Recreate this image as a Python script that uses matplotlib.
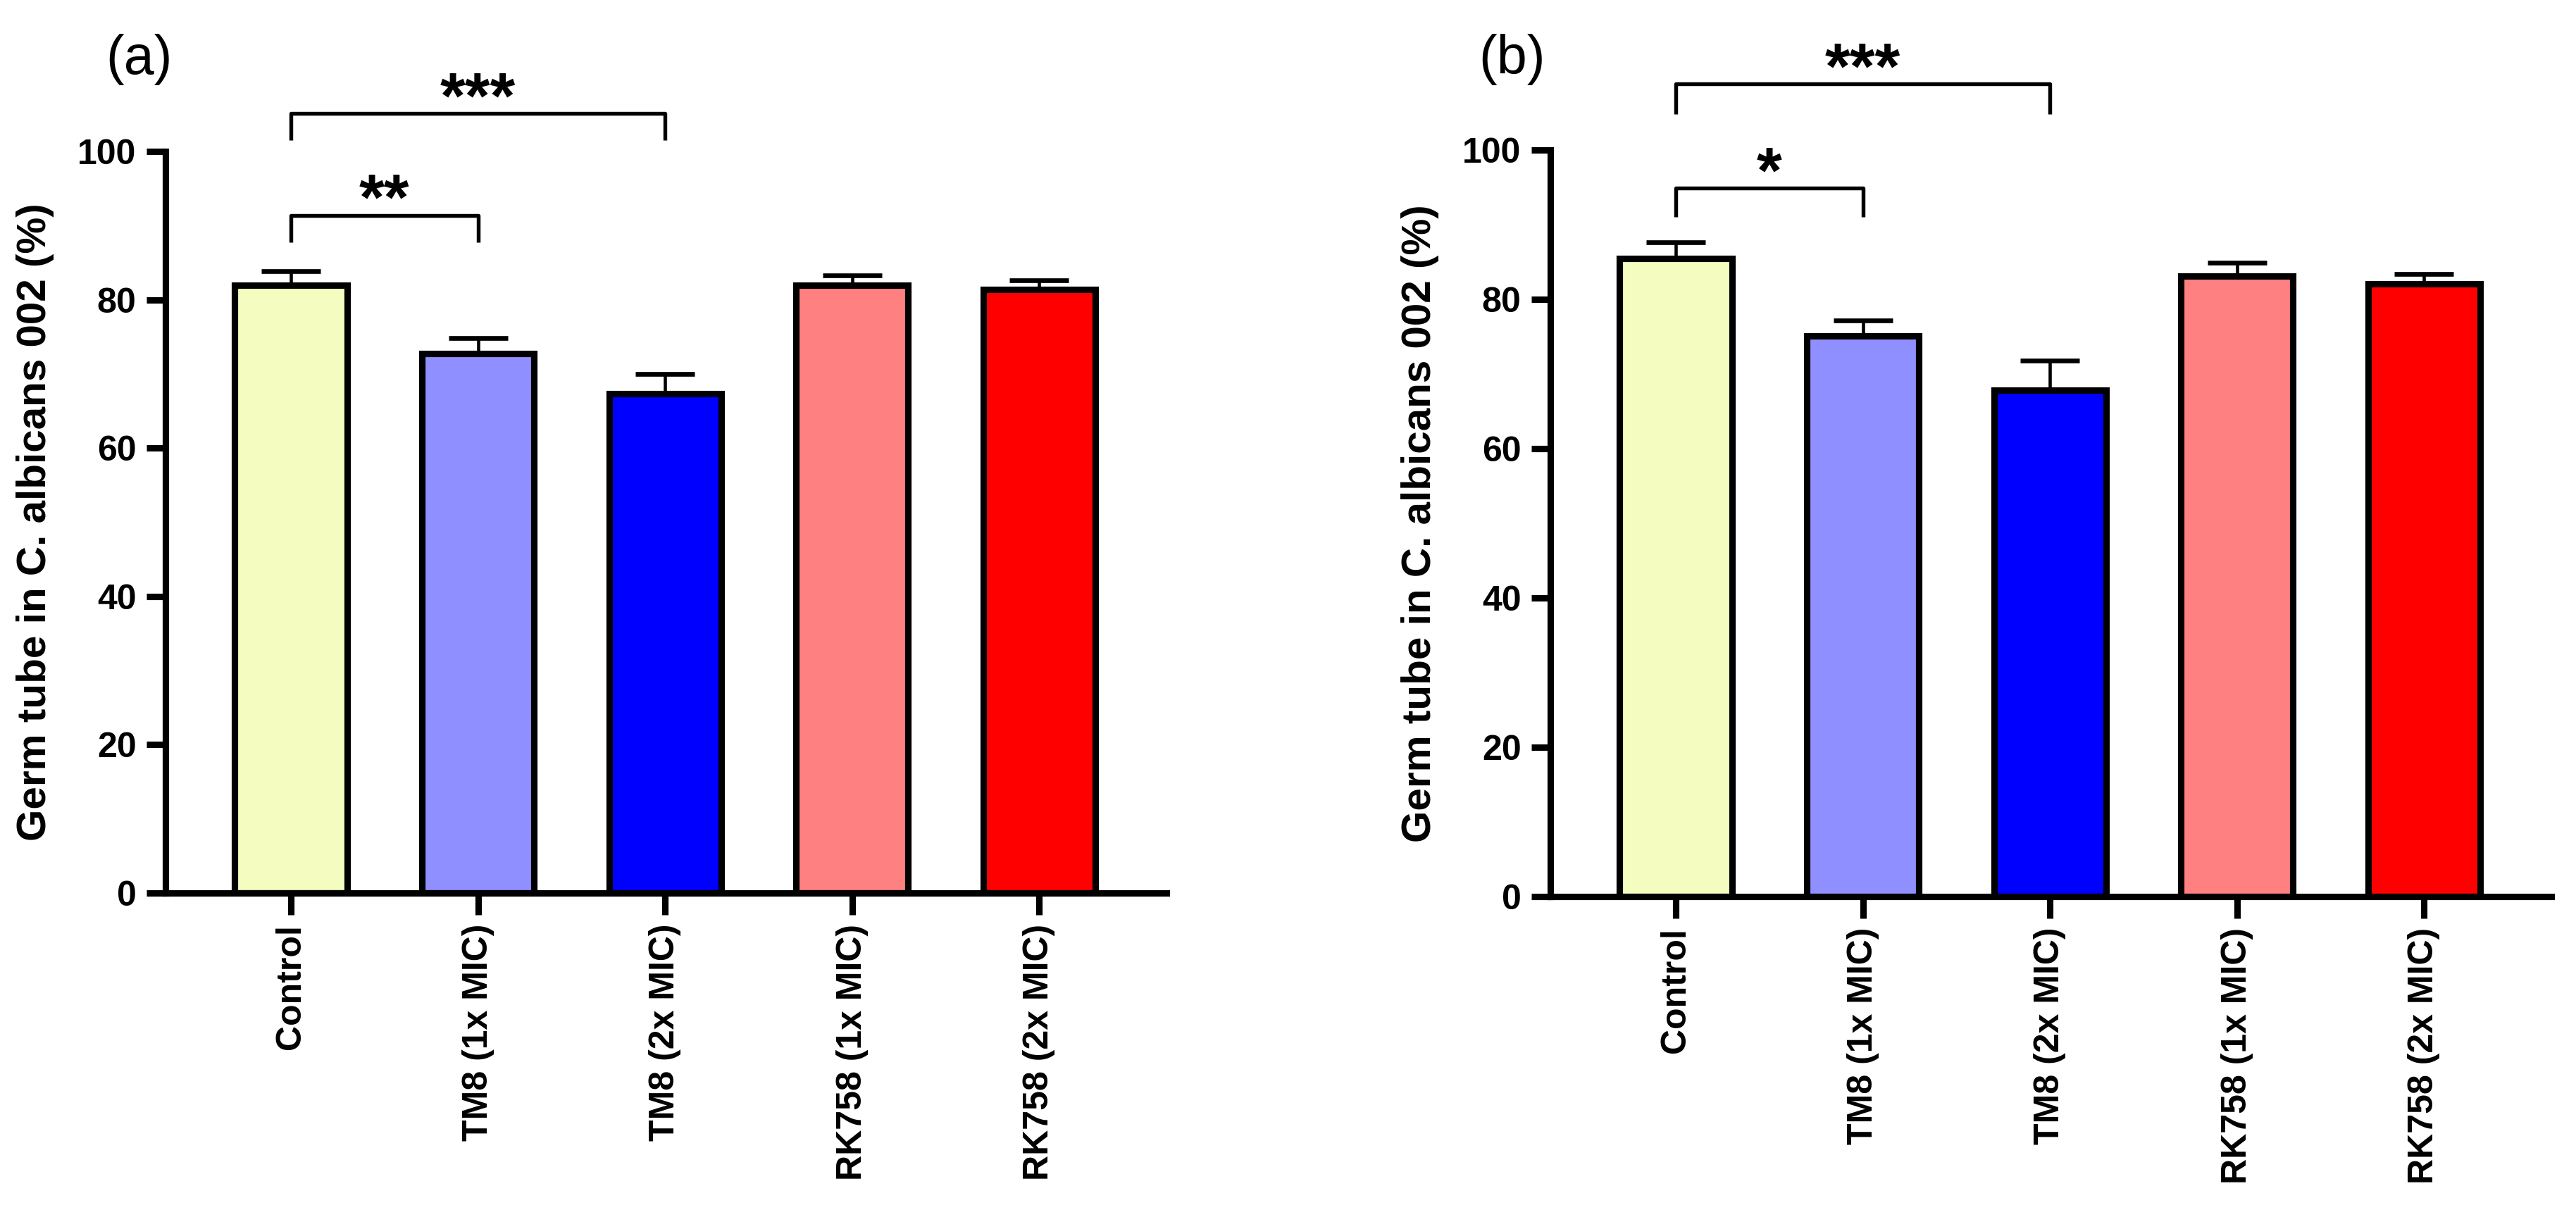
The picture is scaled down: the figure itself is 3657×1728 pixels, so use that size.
import numpy as np
import matplotlib
matplotlib.use('Agg')
import matplotlib.pyplot as plt

plt.rcParams['font.family'] = ['Liberation Sans', 'DejaVu Sans']

groups = ['Control', 'TM8 (1x MIC)', 'TM8 (2x MIC)', 'RK758 (1x MIC)', 'RK758 (2x MIC)']
colors = ['#f4fcc0', '#8f8fff', '#0000ff', '#ff8080', '#ff0000']

# panel (a)
mean_a = [82.0, 72.7, 67.3, 82.0, 81.4]
sem_a = [1.9, 2.1, 2.7, 1.3, 1.2]
# panel (b)
mean_b = [85.5, 75.1, 67.8, 83.1, 82.1]
sem_b = [2.1, 2.1, 4.0, 1.8, 1.3]

# significance brackets: (from, to, bar height, leg bottom, label)
sig_a = [(0, 1, 91.4, 87.7, '**'), (0, 2, 105.1, 101.5, '***')]
sig_b = [(0, 1, 94.9, 91.0, '*'), (0, 2, 108.9, 104.8, '***')]

ylab = 'Germ tube in C. albicans 002 (%)'
lw = 2.2

fig = plt.figure(figsize=(12.19, 5.76), dpi=300)
ax_a = fig.add_axes([0.0643, 0.2662, 0.3885, 0.6094])
ax_b = fig.add_axes([0.6019, 0.2633, 0.3885, 0.6134])


def draw_panel(ax, means, errs, sigs, tag, tag_x):
    x = np.arange(len(groups))
    ax.bar(x, means, width=0.6, color=colors, edgecolor='black', linewidth=lw, zorder=2)
    ax.errorbar(x, means, yerr=[np.zeros(len(errs)), errs], fmt='none', ecolor='black',
                elinewidth=1.1, capsize=10, capthick=1.6, zorder=1)
    ax.set_xlim(-0.67, 4.68)
    ax.set_ylim(0, 100)
    ax.set_yticks([0, 20, 40, 60, 80, 100])
    ax.set_xticks(x)
    ax.set_xticklabels(groups, rotation=90, fontsize=12, fontweight='bold')
    for lab in ax.get_yticklabels():
        lab.set_fontweight('bold')
        lab.set_fontsize(12)
    ax.spines['top'].set_visible(False)
    ax.spines['right'].set_visible(False)
    ax.spines['left'].set_linewidth(lw)
    ax.spines['bottom'].set_linewidth(lw)
    ax.tick_params(axis='y', length=6.5, width=lw, pad=3.5)
    ax.tick_params(axis='x', length=7.5, width=lw, pad=3)
    ax.set_ylabel(ylab, fontsize=14, fontweight='bold', labelpad=8)

    for i0, i1, yb, yl, txt in sigs:
        ax.plot([i0, i0, i1, i1], [yl, yb, yb, yl], color='black', lw=1.3,
                clip_on=False, solid_capstyle='butt')
        ax.text((i0 + i1) / 2, yb - 0.6, txt, ha='center', va='baseline',
                fontsize=22, fontweight='bold', clip_on=False)

    fig.text(tag_x, 0.951, tag, ha='center', va='center', fontsize=18.5)


draw_panel(ax_a, mean_a, sem_a, sig_a, '(a)', 0.0541)
draw_panel(ax_b, mean_b, sem_b, sig_b, '(b)', 0.587)

fig.savefig('out.png', dpi=300)
